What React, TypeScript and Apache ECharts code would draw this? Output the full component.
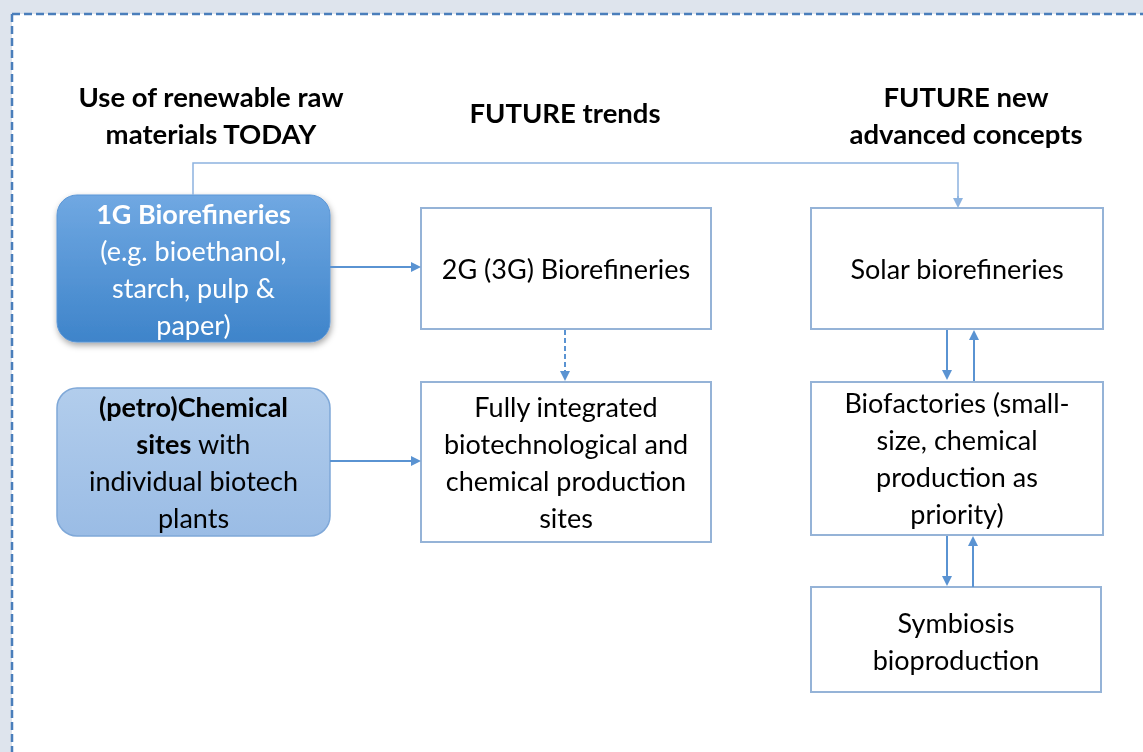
import React, { useEffect, useRef } from "react";
import * as echarts from "echarts";

// ---- content (texts of the diagram) ----
const headerToday = ["Use of renewable raw", "materials TODAY"];
const headerTrends = ["FUTURE trends"];
const headerAdvanced = ["FUTURE new", "advanced concepts"];

const node1G = ["{b|1G Biorefineries}", "(e.g. bioethanol,", "starch, pulp &", "paper)"];
const nodePetro = ["{b|(petro)Chemical}", "{b|sites} with", "individual biotech", "plants"];
const node2G = ["2G (3G) Biorefineries"];
const nodeIntegrated = ["Fully integrated", "biotechnological and", "chemical production", "sites"];
const nodeSolar = ["Solar biorefineries"];
const nodeBiofactories = ["Biofactories (small-", "size, chemical", "production as", "priority)"];
const nodeSymbiosis = ["Symbiosis", "bioproduction"];

const FONT = "Lato, 'Open Sans', sans-serif";
const ARROW = "#5a93d2";
const LIGHT = "#8db3e0";
const BORDER = "#95b3d7";
const BODY_SIZE = 27;
const HEAD_SIZE = 27.5;

function textLines(lines: string[], cx: number, cy: number, lh: number, size: number, color: string, bold = false) {
  const n = lines.length;
  return lines.map((t, i) => ({
    type: "text",
    x: cx,
    y: cy + (i - (n - 1) / 2) * lh,
    z: 10,
    style: {
      text: t,
      fill: color,
      fontFamily: FONT,
      fontSize: size,
      fontWeight: bold ? "bold" : "normal",
      align: "center",
      verticalAlign: "middle",
      rich: {
        b: { fontFamily: FONT, fontSize: size, fontWeight: "bold", fill: color },
      },
    },
  }));
}

function box(x: number, y: number, w: number, h: number, lines: string[], opts: any = {}) {
  const els: any[] = [
    {
      type: "rect",
      shape: { x, y, width: w, height: h, r: opts.r || 0 },
      z: 5,
      style: {
        fill: opts.fill || "#ffffff",
        stroke: opts.stroke || BORDER,
        lineWidth: opts.lineWidth || 2,
        shadowBlur: opts.shadow ? 6 : 0,
        shadowOffsetY: opts.shadow ? 3 : 0,
        shadowOffsetX: opts.shadow ? 1 : 0,
        shadowColor: opts.shadow ? "rgba(0,0,0,0.35)" : "transparent",
      },
    },
  ];
  return els.concat(
    textLines(lines, x + w / 2, y + h / 2 + (opts.dy || 0), opts.lh || 37, opts.size || BODY_SIZE, opts.color || "#000000")
  );
}

function arrow(x1: number, y1: number, x2: number, y2: number, color = ARROW, dashed = false, width = 2) {
  const dx = x2 - x1, dy = y2 - y1;
  const len = Math.sqrt(dx * dx + dy * dy);
  const ux = dx / len, uy = dy / len;
  const hl = 10, hw = 5;
  const bx = x2 - ux * hl, by = y2 - uy * hl;
  return [
    {
      type: "line",
      z: 8,
      shape: { x1, y1, x2: bx, y2: by },
      style: { stroke: color, lineWidth: width, lineDash: dashed ? [5, 3] : null },
    },
    {
      type: "polygon",
      z: 8,
      shape: { points: [[x2, y2], [bx - uy * hw, by + ux * hw], [bx + uy * hw, by - ux * hw]] },
      style: { fill: color },
    },
  ];
}

export default function App() {
  const ref = useRef<HTMLDivElement>(null);
  useEffect(() => {
    if (!ref.current) return;
    const chart = echarts.init(ref.current, null, { renderer: "svg" });
    const g: any[] = [];
    // background and dashed frame
    g.push({ type: "rect", shape: { x: 0, y: 0, width: 1143, height: 752 }, style: { fill: "#dee4ed" }, z: 0 });
    g.push({ type: "rect", shape: { x: 12, y: 14, width: 1200, height: 800 }, style: { fill: "#ffffff" }, z: 1 });
    g.push({ type: "line", shape: { x1: 12, y1: 14, x2: 1143, y2: 14 }, style: { stroke: "#4a7ebb", lineWidth: 2.5, lineDash: [8, 4] }, z: 2 });
    g.push({ type: "line", shape: { x1: 12, y1: 14, x2: 12, y2: 752 }, style: { stroke: "#4a7ebb", lineWidth: 2.5, lineDash: [8, 4] }, z: 2 });

    // headers
    g.push(...textLines(headerToday, 211, 115, 37, HEAD_SIZE, "#000", true));
    g.push(...textLines(headerTrends, 565, 112, 37, HEAD_SIZE, "#000", true));
    g.push(...textLines(headerAdvanced, 966, 115, 37, HEAD_SIZE, "#000", true));

    // left column
    g.push(
      ...box(57, 195, 273, 147, node1G, {
        r: 20,
        fill: { type: "linear", x: 0, y: 0, x2: 0, y2: 1, colorStops: [{ offset: 0, color: "#70a8e2" }, { offset: 1, color: "#3e84ca" }] },
        stroke: "#5b96d6",
        lineWidth: 1,
        color: "#ffffff",
        shadow: true,
        dy: 0,
      })
    );
    g.push(
      ...box(57, 388, 273, 148, nodePetro, {
        r: 20,
        fill: { type: "linear", x: 0, y: 0, x2: 0, y2: 1, colorStops: [{ offset: 0, color: "#b2cdec" }, { offset: 1, color: "#9abce5" }] },
        stroke: "#7fa8d8",
        lineWidth: 1.5,
        color: "#000000",
      })
    );

    // middle column
    g.push(...box(421, 208, 290, 121, node2G));
    g.push(...box(421, 382, 290, 160, nodeIntegrated));

    // right column
    g.push(...box(811, 208, 292, 121, nodeSolar));
    g.push(...box(811, 382, 292, 153, nodeBiofactories, { dy: -1 }));
    g.push(...box(811, 587, 290, 105, nodeSymbiosis, { dy: 1 }));

    // connectors
    g.push({ type: "polyline", z: 8, shape: { points: [[193, 195], [193, 163], [958, 163], [958, 198]] }, style: { stroke: LIGHT, lineWidth: 1.5, fill: null } });
    g.push(...arrow(958, 196, 958, 208, LIGHT, false, 1.5));
    g.push(...arrow(330, 267, 421, 267));
    g.push(...arrow(330, 461, 421, 461));
    g.push(...arrow(565, 330, 565, 381, ARROW, true));
    g.push(...arrow(947, 330, 947, 380));
    g.push(...arrow(974, 381, 974, 330));
    g.push(...arrow(947, 536, 947, 586));
    g.push(...arrow(973, 587, 973, 536));

    chart.setOption({ animation: false, graphic: { elements: g } });
    return () => chart.dispose();
  }, []);
  return <div ref={ref} style={{ position: "fixed", left: 0, top: 0, width: 1143, height: 752 }} />;
}
